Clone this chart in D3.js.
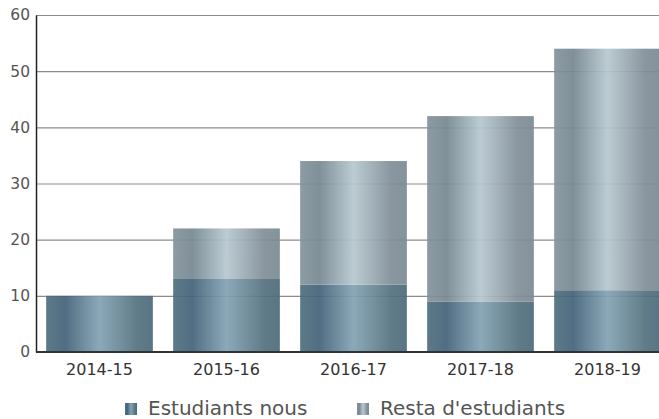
<!DOCTYPE html>
<html>
<head>
<meta charset="utf-8">
<script src="https://cdn.jsdelivr.net/npm/d3@7"></script>
<style>
  body { margin: 0; background: #fff; }
  svg { display: block; }
  text { font-family: "DejaVu Sans", sans-serif; }
</style>
</head>
<body>
<div id="chart"></div>
<script>
// dades
const cursos = ['2014-15', '2015-16', '2016-17', '2017-18', '2018-19'];
const nous = [10, 13, 12, 9, 11];
const resta = [0, 9, 22, 33, 43];
const yTicks = [0, 10, 20, 30, 40, 50, 60];
const series = ['Estudiants nous', "Resta d'estudiants"];

const width = 659;
const height = 419;
const margin = { top: 15, left: 36, bottom: 67 };
const font = 'DejaVu Sans, sans-serif';

const svg = d3.select('#chart')
  .append('svg')
  .attr('width', width)
  .attr('height', height)
  .attr('font-family', font);

const defs = svg.append('defs');
function grad(id, stops) {
  const g = defs.append('linearGradient')
    .attr('id', id)
    .attr('x1', '0%').attr('x2', '100%')
    .attr('y1', '0%').attr('y2', '0%');
  stops.forEach((s) => {
    g.append('stop').attr('offset', s[0]).attr('stop-color', s[1]);
  });
}
grad('gNous', [[0, '#51707f'], [0.18, '#45637a'], [0.5, '#84a3b4'], [0.85, '#55737f'], [1, '#4d6a7a']]);
grad('gResta', [[0, '#84949d'], [0.18, '#778892'], [0.5, '#b7c8d0'], [0.85, '#828f99'], [1, '#7a8b94']]);

const y = d3.scaleLinear()
  .domain([0, 60])
  .range([height - margin.bottom, margin.top]);

// the band range runs past the right edge, the last bar is cut
const x = d3.scaleBand()
  .domain(cursos)
  .range([margin.left, margin.left + 635])
  .paddingInner(0.16)
  .paddingOuter(0.08);

// grid
svg.append('g')
  .selectAll('line')
  .data(yTicks.filter((d) => d > 0))
  .join('line')
  .attr('x1', margin.left)
  .attr('x2', width)
  .attr('y1', (d) => y(d) + 0.5)
  .attr('y2', (d) => y(d) + 0.5)
  .attr('stroke', '#8c8c8c')
  .attr('stroke-width', 1.2);

const stack = cursos.map((c, i) => ({ curs: c, nous: nous[i], resta: resta[i] }));

const bars = svg.append('g').attr('opacity', 0.93);
bars.selectAll('rect.nous')
  .data(stack)
  .join('rect')
  .attr('class', 'nous')
  .attr('x', (d) => x(d.curs))
  .attr('width', x.bandwidth())
  .attr('y', (d) => y(d.nous))
  .attr('height', (d) => y(0) - y(d.nous))
  .attr('fill', 'url(#gNous)');

bars.selectAll('rect.resta')
  .data(stack.filter((d) => d.resta > 0))
  .join('rect')
  .attr('class', 'resta')
  .attr('x', (d) => x(d.curs))
  .attr('width', x.bandwidth())
  .attr('y', (d) => y(d.nous + d.resta))
  .attr('height', (d) => y(d.nous) - y(d.nous + d.resta))
  .attr('fill', 'url(#gResta)');

// eixos
const yAxis = svg.append('g')
  .attr('transform', `translate(${margin.left},0)`)
  .call(d3.axisLeft(y).tickValues(yTicks).tickSize(0).tickPadding(6))
  .attr('font-family', font);
yAxis.select('.domain').attr('stroke', '#222').attr('stroke-width', 1.5);
yAxis.selectAll('text').attr('font-size', 15.5).attr('fill', '#555');

const xAxis = svg.append('g')
  .attr('transform', `translate(0,${y(0)})`)
  .call(d3.axisBottom(x).tickSize(0).tickPadding(12))
  .attr('font-family', font);
xAxis.select('.domain').remove();
xAxis.append('line')
  .attr('x1', margin.left).attr('x2', width)
  .attr('stroke', '#333').attr('stroke-width', 2);
xAxis.selectAll('text').attr('font-size', 16).attr('fill', '#333');

// llegenda
const legend = svg.append('g').attr('transform', 'translate(0,408)');
const legendX = [125, 357];
series.forEach((s, i) => {
  legend.append('rect')
    .attr('x', legendX[i])
    .attr('y', -5)
    .attr('width', 12)
    .attr('height', 12)
    .attr('fill', i === 0 ? 'url(#gNous)' : 'url(#gResta)');
  legend.append('text')
    .attr('x', legendX[i] + 23)
    .attr('y', 0)
    .attr('dy', '0.35em')
    .attr('font-size', 20)
    .attr('fill', '#555')
    .text(s);
});
</script>
</body>
</html>
